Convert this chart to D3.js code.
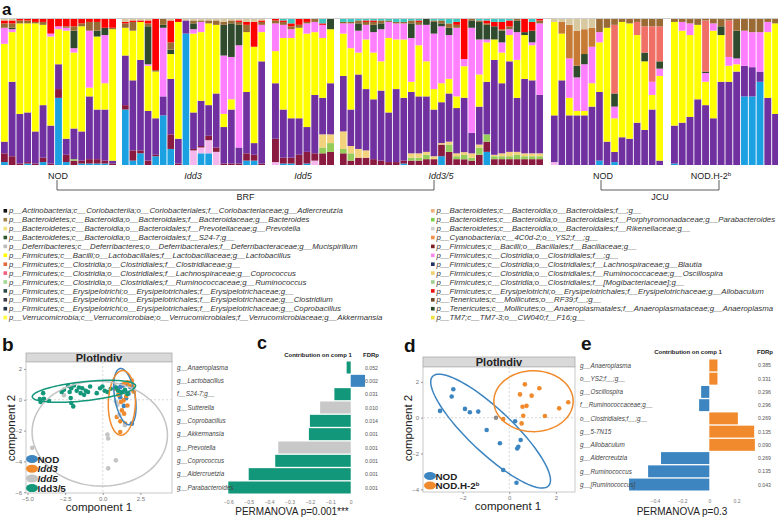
<!DOCTYPE html>
<html><head><meta charset="utf-8">
<script src="https://cdn.jsdelivr.net/npm/d3@7"></script>
<style>body{margin:0;background:#fff;} svg{display:block;font-family:"Liberation Sans",Arial,sans-serif;}</style>
</head><body><svg id="c" width="778" height="519"></svg>
<script>
// ---------- Panel a data ----------
const taxa = ["cyan","lightpink","maroon","lightgreen","tan","purple","yellow","pink","darkgreen","orangebrown","salmon","brown","red","teal","beige"];
const taxaColors = ["#1ba1e2","#f4b6ec","#8a1a40","#95cc5a","#f2d27c","#7030a0","#ffff00","#ff80ff","#2f4a2c","#c77a33","#f07068","#9a6a34","#ff0000","#3cc8c0","#d8c8a0"];
const groupNames = ["NOD","Idd3","Idd5","Idd3/5","NOD","NOD.H-2b"];
const nodBRF = [
[2,0,6,0,0,8,67,11,0,0,0,3,2,0,1],[0,0,6,0,0,51,34,2,1,0,0,3,2,0,1],[0,0,1,0,0,34,62,0,0,0,0,2,1,0,0],
[1,0,1,0,0,34,61,0,0,0,0,2,1,0,0],[0,0,1,0,0,22,74,0,0,0,0,1,2,0,0],[2,0,3,0,0,36,55,0,0,0,0,2,2,0,0],
[0,0,1,0,0,26,61,2,0,0,0,0,10,0,0],[46,0,6,0,0,17,24,2,0,0,0,0,5,0,0],[2,0,5,0,0,11,74,2,0,0,0,1,5,0,0],
[0,0,3,1,0,21,52,3,12,0,0,3,5,0,0],[1,0,2,0,0,20,72,0,0,0,0,2,3,0,0],[1,0,3,0,0,43,6,39,0,0,0,6,2,0,0],
[1,0,3,0,0,34,50,0,4,0,0,6,2,0,0],[1,0,2,0,0,35,18,33,5,0,0,0,6,0,0],[0,0,1,0,0,2,90,0,0,0,0,1,6,0,0]];
const idd3 = [
[38,0,3,0,0,34,19,0,0,0,0,3,1,0,2],[3,0,7,0,0,48,34,0,0,0,0,6,1,0,1],[8,0,2,0,0,62,26,0,0,0,0,0,1,0,1],
[0,0,3,0,0,34,31,1,26,0,0,2,2,0,1],[6,0,1,0,0,25,32,0,0,0,0,1,35,0,0],[34,0,0,0,0,13,0,47,2,0,0,4,0,0,0],
[11,0,10,0,0,38,17,0,3,0,0,5,15,0,1],[0,0,1,0,0,17,80,0,0,0,0,0,2,0,0],[90,0,0,0,0,9,0,0,0,0,0,0,0,0,1],
[0,10,1,0,0,25,54,3,4,0,0,2,0,0,1],[8,4,1,0,0,31,47,7,0,0,0,1,0,0,1],[8,9,3,0,0,21,56,0,0,0,0,2,0,0,1],
[0,9,3,0,0,37,47,0,0,0,0,3,0,0,1],[0,0,1,0,0,25,9,40,21,0,0,2,0,0,2],[0,0,1,0,0,37,7,29,23,0,0,2,0,0,1],
[0,0,1,0,0,11,0,70,14,0,0,2,1,0,1],[3,0,5,0,0,42,41,0,0,0,0,5,2,0,2],[3,0,4,0,0,8,66,0,0,0,0,0,17,0,2],
[0,0,1,0,0,70,20,5,0,0,0,2,1,0,1]];
const idd5 = [
[0,2,16,0,0,38,22,19,0,0,0,2,1,0,0],[1,0,4,0,0,33,49,9,0,0,0,2,1,1,0],[1,0,4,0,0,27,55,6,0,0,0,2,2,3,0],
[0,0,7,0,0,25,62,0,0,0,0,2,4,0,0],[1,0,8,0,0,17,64,7,0,0,0,1,2,0,0],[0,3,5,0,0,40,43,7,0,0,0,2,0,0,0],
[0,0,8,4,9,25,41,9,0,0,0,0,1,3,0],[0,0,9,6,6,35,37,0,7,0,0,0,0,0,0]];
const idd35 = [
[0,0,8,3,12,38,29,7,0,0,0,1,0,2,0],[0,0,3,5,5,25,42,17,0,0,0,1,0,2,0],[0,0,5,0,6,51,15,15,5,0,0,2,0,1,0],
[0,0,5,0,5,42,34,10,0,0,0,2,1,1,0],[0,0,4,0,0,41,32,14,5,0,0,2,1,1,0],[0,0,3,0,0,48,20,22,4,0,0,2,0,1,0],
[0,0,2,0,0,34,51,11,0,0,0,1,0,1,0],[0,0,2,0,0,50,34,11,0,0,0,1,0,2,0],[1,0,2,0,0,43,40,11,0,0,0,1,0,2,0],
[0,0,3,2,3,42,7,30,10,0,0,2,0,1,0],[0,0,3,2,3,39,35,14,0,0,0,2,1,1,0],[0,0,4,3,2,38,24,25,4,0,0,0,0,0,0],
[0,0,4,0,2,32,14,38,8,0,0,1,0,1,0],[6,0,8,0,1,28,13,39,2,0,0,2,0,1,0],[0,0,9,5,2,33,10,30,5,0,0,3,0,3,0],
[0,0,4,2,2,31,8,47,0,0,0,2,2,2,0],[0,0,4,3,2,38,22,5,0,0,0,0,28,0,0],[0,0,3,2,3,14,0,72,5,0,0,1,0,0,0],
[0,0,7,5,2,26,22,24,12,0,0,1,0,1,0],[9,0,7,5,0,36,27,2,10,0,0,1,2,1,0],[0,0,4,2,1,65,14,0,9,0,0,0,3,2,0],
[0,0,4,2,2,48,21,7,8,0,0,1,5,2,0],[0,0,4,2,3,62,18,4,0,0,0,2,4,1,0],[0,0,4,3,2,37,26,19,8,0,0,1,0,0,0],
[0,0,4,2,2,51,30,0,2,0,0,0,9,0,0],[0,0,4,2,2,50,24,2,8,0,0,0,6,2,0],[0,0,4,2,2,40,0,49,0,0,0,2,1,0,0]];
const nodJCU = [
[0,2,0,0,0,32,64,0,0,0,0,0,0,0,2],[0,0,0,0,0,58,32,0,0,8,0,0,0,0,2],[0,0,0,0,0,34,12,27,0,23,0,0,0,0,4],
[0,0,0,0,0,34,3,23,8,24,0,0,0,0,8],[0,0,0,0,0,34,3,32,7,17,0,0,0,0,7],[0,0,0,0,0,40,16,25,0,13,0,0,0,0,6],
[3,0,0,0,0,47,34,7,0,0,0,9,0,0,0],[0,0,0,0,0,16,78,0,0,0,0,6,0,0,0],[2,0,0,0,0,7,23,8,9,0,47,4,0,0,0],
[0,0,0,0,0,19,79,0,0,0,0,2,0,0,0],[0,0,0,0,0,18,79,0,0,0,0,3,0,0,0],[0,0,0,0,0,29,60,0,0,0,9,2,0,0,0],
[0,0,0,0,0,24,47,0,6,0,18,5,0,0,0],[0,0,0,0,0,38,10,9,0,0,38,5,0,0,0],[0,0,0,0,0,3,58,5,5,0,24,5,0,0,0]];
const nodH2b = [
[1,0,0,0,0,26,71,0,0,0,0,2,0,0,0],[0,0,0,0,0,29,63,6,0,0,0,2,0,0,0],[0,0,0,0,0,33,56,8,0,0,0,3,0,0,0],
[0,0,0,0,0,45,51,0,0,0,0,4,0,0,0],[0,0,0,0,0,41,16,6,1,0,35,1,0,0,0],[0,0,0,0,0,32,60,5,0,0,0,3,0,0,0],
[0,0,0,0,0,57,32,0,6,0,0,5,0,0,0],[0,0,0,0,0,57,11,6,0,0,25,1,0,0,0],[0,0,0,0,0,64,5,4,19,0,0,8,0,0,0],
[47,0,0,0,0,21,0,24,0,0,0,8,0,0,0],[47,0,0,0,0,20,0,24,0,0,0,9,0,0,0],[57,0,0,0,0,7,0,27,0,0,0,9,0,0,0],
[0,0,0,0,0,46,45,7,0,0,0,2,0,0,0],[0,0,0,0,0,35,62,0,0,0,0,3,0,0,0]];

const legendLeft = [
"p__Actinobacteria;c__Coriobacteriia;o__Coriobacteriales;f__Coriobacteriaceae;g__Adlercreutzia",
"p__Bacteroidetes;c__Bacteroidia;o__Bacteroidales;f__Bacteroidaceae;g__Bacteroides",
"p__Bacteroidetes;c__Bacteroidia;o__Bacteroidales;f__Prevotellaceae;g__Prevotella",
"p__Bacteroidetes;c__Bacteroidia;o__Bacteroidales;f__S24-7;g__",
"p__Deferribacteres;c__Deferribacteres;o__Deferribacterales;f__Deferribacteraceae;g__Mucispirillum",
"p__Firmicutes;c__Bacilli;o__Lactobacillales;f__Lactobacillaceae;g__Lactobacillus",
"p__Firmicutes;c__Clostridia;o__Clostridiales;f__Clostridiaceae;g__",
"p__Firmicutes;c__Clostridia;o__Clostridiales;f__Lachnospiraceae;g__Coprococcus",
"p__Firmicutes;c__Clostridia;o__Clostridiales;f__Ruminococcaceae;g__Ruminococcus",
"p__Firmicutes;c__Erysipelotrichi;o__Erysipelotrichales;f__Erysipelotrichaceae;g__",
"p__Firmicutes;c__Erysipelotrichi;o__Erysipelotrichales;f__Erysipelotrichaceae;g__Clostridium",
"p__Firmicutes;c__Erysipelotrichi;o__Erysipelotrichales;f__Erysipelotrichaceae;g__Coprobacillus",
"p__Verrucomicrobia;c__Verrucomicrobiae;o__Verrucomicrobiales;f__Verrucomicrobiaceae;g__Akkermansia"];
const legendLeftColors = ["#111111","#a0804a","#f0e080","#2e5a2e","#bbbbbb","#ffff00","#e06a3a","#f06080","#a0d890","#2a4a4a","#3a3a4a","#223344","#ffff40"];
const legendRight = [
"p__Bacteroidetes;c__Bacteroidia;o__Bacteroidales;f__;g__",
"p__Bacteroidetes;c__Bacteroidia;o__Bacteroidales;f__Porphyromonadaceae;g__Parabacteroides",
"p__Bacteroidetes;c__Bacteroidia;o__Bacteroidales;f__Rikenellaceae;g__",
"p__Cyanobacteria;c__4C0d-2;o__YS2;f__;g__",
"p__Firmicutes;c__Bacilli;o__Bacillales;f__Bacillaceae;g__",
"p__Firmicutes;c__Clostridia;o__Clostridiales;f__;g__",
"p__Firmicutes;c__Clostridia;o__Clostridiales;f__Lachnospiraceae;g__Blautia",
"p__Firmicutes;c__Clostridia;o__Clostridiales;f__Ruminococcaceae;g__Oscillospira",
"p__Firmicutes;c__Clostridia;o__Clostridiales;f__[Mogibacteriaceae];g__",
"p__Firmicutes;c__Erysipelotrichi;o__Erysipelotrichales;f__Erysipelotrichaceae;g__Allobaculum",
"p__Tenericutes;c__Mollicutes;o__RF39;f__;g__",
"p__Tenericutes;c__Mollicutes;o__Anaeroplasmatales;f__Anaeroplasmataceae;g__Anaeroplasma",
"p__TM7;c__TM7-3;o__CW040;f__F16;g__"];
const legendRightColors = ["#f0b080","#80d050","#d0d0d0","#f09050","#7a2020","#ff88ee","#203060","#f0d070","#a0d090","#ee1111","#6a4a2a","#2a4a2a","#f0e040"];

// ---------- Panel b data ----------
const bGroups = ["NOD","Idd3","Idd5","Idd3/5"];
const bColors = ["#3d85c0","#f08a2c","#c4c4c4","#12977a"];
const bNOD = [[1.0,0.75],[1.16,0.82],[1.33,0.92],[1.71,0.39],[1.93,-1.55],[1.49,0.6],[1.82,0.82],[1.16,0.17],[1.6,1.0],[1.3,0.5],[1.55,0.1],[1.4,-0.4],[1.25,0.95]];
const bIdd3 = [[1.64,1.14],[1.42,1.03],[1.78,0.92],[0.82,0.71],[1.04,0.32],[1.38,-0.04],[1.64,-0.37],[1.27,-0.69],[1.42,-0.9],[0.93,-1.12],[1.16,-1.4],[1.49,-1.55],[1.16,-2.09],[2.04,0.54],[1.56,0.24],[1.93,1.25],[1.2,-0.15]];
const bIdd5 = [[-4.69,-3.12],[0.31,-2.26],[0.36,-2.51],[0.87,-3.93],[0.36,-4.45],[-2.58,0.3],[0.87,-0.11],[0.98,-0.32],[1.47,-1.65],[0.8,0.9],[1.1,-1.0]];
const bIdd35 = [[-4.18,0.04],[-4.13,-0.15],[-3.96,0.43],[-3.91,0.07],[-3.58,-0.06],[-2.73,0.5],[-2.58,0.65],[-2.31,0.9],[-2.2,0.5],[-2.09,0.75],[-1.91,0.93],[-1.73,0.58],[-1.58,0.8],[-1.47,0.43],[-1.36,0.75],[-1.13,0.58],[-0.98,0.5],[-0.84,0.86],[-0.4,0.43],[-0.18,0.75],[-0.02,0.86],[0.13,0.58],[0.31,0.5],[-2.13,0.11],[-2.09,-0.21],[-1.96,-0.43],[-1.24,0.32],[0.53,0.71],[0.87,0.8],[1.02,0.58],[1.24,0.5],[1.47,0.65],[1.64,0.37]];
// ellipse: [cx, cy, a, b, angleDeg]
const bEllipses = [[1.47,0.2,1.85,0.68,100],[1.27,-0.2,2.1,0.9,88],[-0.2,-2.2,4.5,3.4,-3],[-1.25,0.55,3.45,0.62,6]];

// ---------- Panel c data ----------
const cCats = ["g__Anaeroplasma","g__Lactobacillus","f__S24-7;g__","g__Sutterella","g__Coprobacillus","g__Akkermansia","g__Prevotella","g__Coprococcus","g__Aldercruetzia","g__Parabacteroides"];
const cValues = [-0.02,0.07,-0.08,-0.15,-0.2,-0.205,-0.355,-0.37,-0.5,-0.6];
const cGroup = ["Idd3/5","NOD","Idd3/5","Idd5","Idd3/5","Idd3/5","Idd5","Idd3/5","Idd3/5","Idd3/5"];
const cFDR = ["0.052","0.002","0.031","0.010","0.014","0.001","0.001","0.001","0.001","0.001"];
const cTicks = [-0.6,-0.5,-0.4,-0.3,-0.2,-0.1,0];

// ---------- Panel d data ----------
const dGroups = ["NOD","NOD.H-2b"];
const dColors = ["#3d85c0","#f08a2c"];
const dNOD = [[-2.4,1.59],[-2.47,1.18],[-2.97,0.38],[-1.9,0.49],[-1.69,0.3],[-1.33,0.34],[-0.97,-0.69],[-0.4,-1.43],[0.39,-1.62],[0.34,-1.72],[0.49,-1.25],[0.25,-0.2],[-0.26,-2.92],[0.31,-3.63]];
const dH2b = [[0.67,1.86],[1.29,1.64],[0.46,1.3],[0.96,1.23],[0.74,0.66],[0.57,0.61],[0.6,0.11],[-0.26,-0.07],[0.53,-0.32],[1.53,0.09],[2.14,0.52],[2.53,0.86]];
const dOther = [[-0.57,0.0]];
const dEllipses = [[-0.8,-0.75,3.95,1.05,-52],[1.04,0.92,1.7,1.7,-10]];

// ---------- Panel e data ----------
const eCats = ["g__Anaeroplasma","o__YS2;f__;g__","g__Oscillospira","f__Ruminococcaceae;g__","o__Clostridiales;f__;g__","g__5-7N15","g__Allobaculum","g__Aldercreutzia","g__Ruminococcus","g__[Ruminococcus]"];
const eValues = [0.06,0.06,-0.06,-0.075,0.21,0.33,0.335,-0.355,-0.45,-0.59];
const eGroup = ["NOD.H-2b","NOD.H-2b","NOD","NOD","NOD.H-2b","NOD.H-2b","NOD.H-2b","NOD","NOD","NOD"];
const eFDR = ["0.385","0.331","0.296","0.296","0.269","0.135","0.090","0.269","0.135","0.043"];
const eTicks = [-0.4,-0.2,0,0.2];

// =================== DRAW ===================
const svg = d3.select("#c");
const letter = (x,y,t) => svg.append("text").attr("x",x).attr("y",y).text(t)
  .attr("font-size",19).attr("font-weight","bold").attr("fill","#111");

// ---- Panel a ----
letter(2,15,"a").attr("font-size",17);
const groupData = [nodBRF, idd3, idd5, idd35, nodJCU, nodH2b];
const groupRanges = [[1,116],[122,265],[272,334],[340,543],[551,663],[671,779]];
const labelX = [58,193,303,441,603,711];
const yA = d3.scaleLinear().domain([0,1]).range([165,19]);
const stack = d3.stack().keys(d3.range(taxa.length)).offset(d3.stackOffsetExpand);
const gA = svg.append("g");
gA.append("line").attr("x1",0).attr("x2",778).attr("y1",yA(1)-0.5).attr("y2",yA(1)-0.5).attr("stroke","#ccc");
groupData.forEach((arr,gi)=>{
  const xb = d3.scaleBand().domain(d3.range(arr.length)).range(groupRanges[gi]).paddingInner(0.12);
  const rows = arr.map(v=>{const o={}; v.forEach((x,i)=>o[i]=x); return o;});
  const series = stack(rows);
  series.forEach((s,si)=>{
    gA.selectAll(null).data(s).join("rect")
      .attr("x",(d,i)=>xb(i)).attr("width",xb.bandwidth())
      .attr("y",d=>yA(d[1])).attr("height",d=>Math.max(0,yA(d[0])-yA(d[1])))
      .attr("fill",taxaColors[si]);
  });
  const lab = svg.append("text").attr("x",labelX[gi]).attr("y",179).attr("text-anchor","middle")
    .attr("font-size",9).attr("fill","#222");
  if (groupNames[gi]==="NOD.H-2b"){
    lab.text("NOD.H-2"); lab.append("tspan").attr("font-size",6).attr("dy",-3.5).text("b");
  } else if (groupNames[gi]==="NOD"){
    lab.text("NOD");
  } else {
    lab.attr("font-style","italic").text(groupNames[gi]);
  }
});
// brackets
const bracket = (x1,x2,name)=>{
  svg.append("path").attr("d",`M${x1},180V190H${x2}V180`).attr("fill","none").attr("stroke","#333").attr("stroke-width",0.8);
  svg.append("text").attr("x",(x1+x2)/2).attr("y",200).attr("text-anchor","middle").attr("font-size",9).attr("fill","#222").text(name);
};
bracket(57,434,"BRF"); bracket(601,719,"JCU");

// legend
const legRow = i => 211 + i*8.9;
const drawLegend = (labels, colors, x0)=>{
  labels.forEach((t,i)=>{
    svg.append("rect").attr("x",x0).attr("y",legRow(i)-2).attr("width",3.6).attr("height",3.6).attr("fill",colors[i]);
    svg.append("text").attr("x",x0+5.5).attr("y",legRow(i)+2.4).attr("font-size",7.8).attr("font-style","italic")
      .attr("fill","#333").text(t);
  });
};
drawLegend(legendLeft, legendLeftColors, 3.5);
drawLegend(legendRight, legendRightColors, 431);

// ---- scatter panel helper ----
function ellipsePath(e, x, y){
  const [cx,cy,a,b,ang] = e; const th = ang*Math.PI/180;
  const pts = d3.range(0,101).map(k=>{const t=k/100*2*Math.PI;
    const ex = cx + a*Math.cos(t)*Math.cos(th) - b*Math.sin(t)*Math.sin(th);
    const ey = cy + a*Math.cos(t)*Math.sin(th) + b*Math.sin(t)*Math.cos(th);
    return [x(ex), y(ey)];});
  return d3.line()(pts)+"Z";
}
function scatterPanel(opt){
  const {x,y,xTicks,yTicks,xFmt,pointSets,colors,ellipses,stripTop,legendItems,legX,legY,legStep} = opt;
  const [x0,x1] = x.range(); const [y1,y0] = y.range();
  const g = svg.append("g");
  g.append("rect").attr("x",x0).attr("y",stripTop).attr("width",x1-x0).attr("height",y0-stripTop)
    .attr("fill","#d9d9d9").attr("stroke","#aaa").attr("stroke-width",0.8);
  g.append("text").attr("x",(x0+x1)/2).attr("y",(stripTop+y0)/2+4).attr("text-anchor","middle")
    .attr("font-size",11).attr("font-weight","bold").attr("fill","#222").text("PlotIndiv");
  g.append("rect").attr("x",x0).attr("y",y0).attr("width",x1-x0).attr("height",y1-y0)
    .attr("fill","#fff").attr("stroke","#bbb").attr("stroke-width",0.8);
  g.append("line").attr("x1",x(0)).attr("x2",x(0)).attr("y1",y0).attr("y2",y1).attr("stroke","#d8d8d8").attr("stroke-dasharray","2,2");
  g.append("line").attr("x1",x0).attr("x2",x1).attr("y1",y(0)).attr("y2",y(0)).attr("stroke","#d8d8d8").attr("stroke-dasharray","2,2");
  const ax = g.append("g").attr("transform",`translate(0,${y1})`).call(d3.axisBottom(x).tickValues(xTicks).tickFormat(xFmt).tickSize(2).tickPadding(2));
  const ay = g.append("g").attr("transform",`translate(${x0},0)`).call(d3.axisLeft(y).tickValues(yTicks).tickFormat(d3.format("d")).tickSize(2).tickPadding(2));
  [ax,ay].forEach(a=>{a.select(".domain").remove(); a.selectAll("line").attr("stroke","#999");
    a.selectAll("text").attr("font-size",6).attr("fill","#777").attr("font-family","Liberation Sans, Arial, sans-serif");});
  pointSets.forEach((ps,i)=>{
    g.selectAll(null).data(ps).join("circle").attr("cx",d=>x(d[0])).attr("cy",d=>y(d[1])).attr("r",2.3).attr("fill",colors[i]);
  });
  ellipses.forEach((e,i)=>{
    g.append("path").attr("d",ellipsePath(e,x,y)).attr("fill","none").attr("stroke",colors[i]).attr("stroke-width",1.5);
  });
  legendItems.forEach((it,i)=>{
    const ly = legY + i*legStep;
    g.append("ellipse").attr("cx",legX).attr("cy",ly).attr("rx",6).attr("ry",4).attr("fill",colors[i]);
    const t = g.append("text").attr("x",legX+5.5).attr("y",ly+3.5).attr("font-size",9.8).attr("font-weight","bold").attr("fill","#222");
    it(t);
  });
  return g;
}

// ---- Panel b ----
letter(2,351,"b");
const xb = d3.scaleLinear().domain([-5.1,4.6]).range([26,172]);
const yb = d3.scaleLinear().domain([-6.05,2.45]).range([493,362]);
scatterPanel({x:xb,y:yb,xTicks:[-5,-2.5,0,2.5],yTicks:[2,0,-2,-4,-6],xFmt:d3.format(".1f"),
  pointSets:[bNOD,bIdd3,bIdd5,bIdd35],colors:bColors,ellipses:bEllipses,stripTop:353,
  legendItems:[t=>t.text("NOD"),t=>t.attr("font-style","italic").text("Idd3"),t=>t.attr("font-style","italic").text("Idd5"),t=>t.text("Idd3/5")],
  legX:32,legY:459,legStep:9.7});
svg.append("text").attr("x",99).attr("y",511).attr("text-anchor","middle").attr("font-size",11.5).attr("fill","#222").text("component 1");
svg.append("text").attr("transform","translate(15,428) rotate(-90)").attr("text-anchor","middle").attr("font-size",11.5).attr("fill","#222").text("component 2");

// ---- Bar contribution helper ----
function contribPanel(opt){
  const {cats,values,groups,fdr,x,yRange,ticks,tickFmt,colorOf,labelX,fdrX,headerY,headerX,fdrHeadX,tickY,permText,permX} = opt;
  const y = d3.scaleBand().domain(cats).range(yRange).paddingInner(0.1);
  const g = svg.append("g");
  g.append("text").attr("x",headerX).attr("y",headerY).attr("text-anchor","middle").attr("font-size",6).attr("font-weight","bold").attr("fill","#222").text("Contribution on comp 1");
  g.append("text").attr("x",fdrHeadX).attr("y",headerY).attr("font-size",6).attr("font-weight","bold").attr("fill","#222").text("FDRp");
  g.selectAll(null).data(cats).join("rect")
    .attr("x",(d,i)=>x(Math.min(0,values[i]))).attr("width",(d,i)=>Math.abs(x(values[i])-x(0)))
    .attr("y",d=>y(d)).attr("height",y.bandwidth()).attr("fill",(d,i)=>colorOf(groups[i]));
  g.selectAll(null).data(cats).join("text").attr("x",labelX).attr("y",d=>y(d)+y.bandwidth()/2+2.2)
    .attr("font-size",6.3).attr("font-style","italic").attr("fill","#444").text(d=>d);
  g.selectAll(null).data(cats).join("text").attr("x",fdrX).attr("y",d=>y(d)+y.bandwidth()/2+2)
    .attr("font-size",5.2).attr("fill","#555").text((d,i)=>fdr[i]);
  const ax = g.append("g").attr("transform",`translate(0,${tickY})`).call(d3.axisBottom(x).tickValues(ticks).tickFormat(tickFmt).tickSize(0));
  ax.select(".domain").remove();
  ax.selectAll("text").attr("font-size",5).attr("fill","#777").attr("font-family","Liberation Sans, Arial, sans-serif");
  g.append("text").attr("x",permX).attr("y",515).attr("text-anchor","middle").attr("font-size",10).attr("fill","#222").text(permText);
}
const grpColor = g => ({"NOD":"#3d85c0","Idd3":"#f08a2c","Idd5":"#c8c8c8","Idd3/5":"#12977a","NOD.H-2b":"#f08a2c"})[g];

// ---- Panel c ----
letter(257,349,"c").attr("font-size",18);
contribPanel({cats:cCats,values:cValues,groups:cGroup,fdr:cFDR,
  x:d3.scaleLinear().domain([-0.6,0.07]).range([228.3,365]),yRange:[361.5,493.5],ticks:cTicks,
  tickFmt:d=>d===0?"0":d3.format(".1f")(d),colorOf:grpColor,labelX:177,fdrX:365,headerY:357,headerX:318,fdrHeadX:363,
  tickY:497,permText:"PERMANOVA p=0.001***",permX:292});

// ---- Panel d ----
letter(404,352,"d");
const xd = d3.scaleLinear().domain([-3.7,2.82]).range([423,575]);
const yd = d3.scaleLinear().domain([-4.15,2.83]).range([492,367]);
const dg = scatterPanel({x:xd,y:yd,xTicks:[-2,0,2],yTicks:[2,0,-2,-4],xFmt:d3.format("d"),
  pointSets:[dNOD,dH2b],colors:dColors,ellipses:dEllipses,stripTop:357,
  legendItems:[t=>t.text("NOD"),t=>{t.text("NOD.H-2"); t.append("tspan").attr("font-size",6).attr("dy",-3.5).text("b");}],
  legX:430,legY:476,legStep:9.5});
dg.selectAll(null).data(dOther).join("circle").attr("cx",d=>xd(d[0])).attr("cy",d=>yd(d[1])).attr("r",2.3).attr("fill","#8a8a8a");
svg.append("text").attr("x",508).attr("y",510).attr("text-anchor","middle").attr("font-size",11.5).attr("fill","#222").text("component 1");
svg.append("text").attr("transform","translate(412,428) rotate(-90)").attr("text-anchor","middle").attr("font-size",11.5).attr("fill","#222").text("component 2");

// ---- Panel e ----
letter(581,350,"e");
contribPanel({cats:eCats,values:eValues,groups:eGroup,fdr:eFDR,
  x:d3.scaleLinear().domain([-0.6,0.35]).range([627.7,756.9]),yRange:[359.5,490.5],ticks:eTicks,
  tickFmt:d=>d===0?"0":d3.format(".1f")(d),colorOf:grpColor,labelX:580,fdrX:758,headerY:354,headerX:688,fdrHeadX:757,
  tickY:496,permText:"PERMANOVA p=0.3",permX:682});
</script></body></html>
